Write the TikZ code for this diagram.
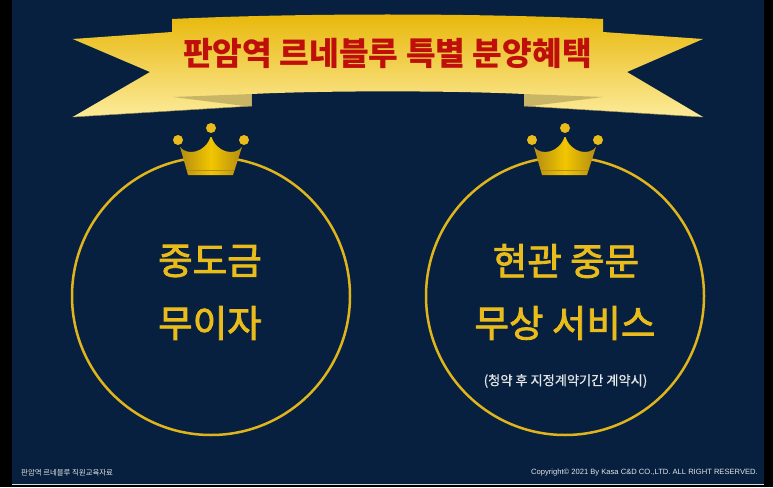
\documentclass[tikz,border=0pt]{standalone}
\usepackage{fontspec}
\newfontfamily\kr{Noto Sans CJK KR}
\newfontfamily\krmid[FakeBold=0.7]{Noto Sans CJK KR}
\newfontfamily\krbig[FakeBold=2.2]{Noto Sans CJK KR}
\setsansfont{Liberation Sans}
\definecolor{navybg}{HTML}{07203F}
\definecolor{ringgold}{HTML}{E0B41C}
\definecolor{textgold}{HTML}{E9BB1B}
\definecolor{titlered}{HTML}{BF0F0B}
\definecolor{foldtan}{HTML}{C9B566}
\definecolor{ribbontop}{HTML}{E8B70A}
\definecolor{ribbonlow}{HTML}{FCEB9A}
\definecolor{crownmid}{HTML}{F2C600}
\definecolor{crownedge}{HTML}{B48C12}
\tikzset{
  bigtext/.style={text=textgold,font=\krbig\fontsize{37.5}{38}\selectfont,inner sep=0pt},
  smalltext/.style={text=white!90!black,inner sep=0pt},
  ring/.style={draw=ringgold,line width=2.5pt}
}
\begin{document}
\begin{tikzpicture}[x=1pt,y=-1pt]
\useasboundingbox (0,0) rectangle (773,487);
% page
\fill[black] (0,0) rectangle (773,487);
\fill[navybg] (12,0) rectangle (764,484);
\draw[white!85!black,line width=1pt] (12,484.5) -- (764,484.5);

% ribbon
\shade[top color=ribbontop,bottom color=ribbonlow]
  (172,19) .. controls (300,13) and (475,13) .. (603,19) -- (603,32) -- (703,39)
  -- (627,72) -- (703,117) -- (524,106) -- (524,94)
  .. controls (450,90.5) and (325,90.5) .. (251.7,94) -- (251.7,106) -- (72.7,117)
  -- (150,72) -- (72.7,39) -- (172,32) -- cycle;
\fill[foldtan] (173,97) -- (251.7,94) -- (251.7,106) -- (245,106) -- cycle;
\fill[foldtan] (603,97) -- (524,94) -- (524,106) -- (531,106) -- cycle;
\draw[foldtan!80!black,line width=.5pt] (72.7,117) -- (251.7,106);
\draw[foldtan!80!black,line width=.5pt] (703,117) -- (524,106);
\node[text=titlered,font=\kr\fontsize{32.3}{32}\selectfont\bfseries,inner sep=0pt] (title) at (387.5,53) {판암역 르네블루 특별 분양혜택};

% circles and crowns
\foreach \cx in {211,565}{
  \draw[ring] (\cx,296) circle (139);
  \begin{scope}[shift={(\cx,0)}]
    \shade[left color=crownedge,right color=crownedge,middle color=crownmid]
      (-31,147) .. controls (-24,156) and (-6,153) .. (-0.5,137) -- (0.5,137)
      .. controls (6,153) and (24,156) .. (31,147) -- (22,175) -- (-23,175) -- cycle;
    \draw[crownedge,line width=.6pt] (-24,170) -- (23,170);
    \fill[textgold] (-33,140) circle (5);
    \fill[textgold] (0,128) circle (5);
    \fill[textgold] (33,140) circle (5);
  \end{scope}
}

% labels
\node[bigtext] (interest1) at (210,261) {중도금};
\node[bigtext] (interest2) at (210,323) {무이자};
\node[bigtext] (door1) at (566,261) {현관 중문};
\node[bigtext] (door2) at (565,323) {무상 서비스};
\node[smalltext,font=\krmid\fontsize{13.2}{13}\selectfont] (note) at (565.5,381) {(청약 후 지정계약기간 계약시)};

% footer
\node[smalltext,anchor=west,font=\kr\fontsize{7.4}{8}\selectfont] (footl) at (21,473) {판암역 르네블루 직원교육자료};
\node[smalltext,anchor=east,font=\sffamily\fontsize{7.6}{8}\selectfont] (footr) at (758,473) {Copyright© 2021 By Kasa C\&D CO.,LTD. ALL RIGHT RESERVED.};
\end{tikzpicture}
\end{document}
